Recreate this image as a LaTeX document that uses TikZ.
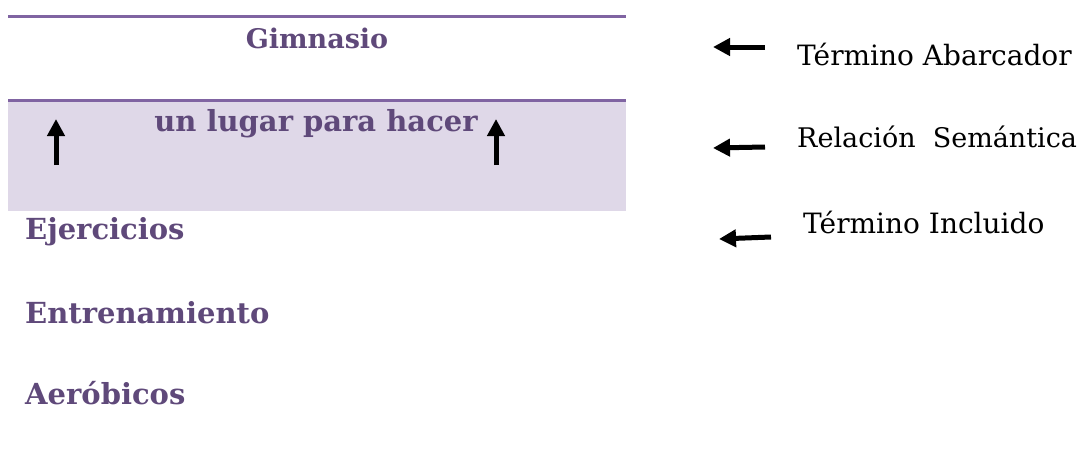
\documentclass[tikz,border=0pt]{standalone}
\usepackage{fontspec}
\setmainfont{DejaVu Serif}
\usetikzlibrary{arrows.meta}
\definecolor{lineP}{HTML}{8064A2}
\definecolor{textP}{HTML}{5F497A}
\definecolor{fillP}{HTML}{DFD8E8}
\tikzset{
  x=1pt, y=-1pt,
  term/.style={text=textP, font=\fontsize{29}{33}\selectfont\bfseries, inner sep=0pt},
  legend/.style={text=black, font=\fontsize{28}{32}\selectfont, inner sep=0pt, anchor=west},
  bigarrow/.style={line width=5pt, -{Triangle[length=17pt,width=17pt]}},
  rule/.style={lineP, line width=3pt}
}
\begin{document}
\begin{tikzpicture}
\useasboundingbox (0,0) rectangle (1085,453);
\fill[fillP] (8,100) rectangle (626,211);
\draw[rule] (8,16) -- (626,16);
\draw[rule] (8,100) -- (626,100);
\node[term, font=\fontsize{27}{31}\selectfont\bfseries] (gim) at (317,38) {Gimnasio};
\node[term] (lugar) at (316,124) {un lugar para hacer};
\node[term, anchor=west] (ej) at (25,232) {Ejercicios};
\node[term, anchor=west] (en) at (25,313) {Entrenamiento};
\node[term, anchor=west] (ae) at (25,393) {Aeróbicos};
\coordinate (u1s) at (56,165); \coordinate (u1e) at (56,119);
\coordinate (u2s) at (496,165); \coordinate (u2e) at (496,119);
\draw[bigarrow] (u1s) -- (u1e);
\draw[bigarrow] (u2s) -- (u2e);
\node[legend] (ta) at (797,54) {Término Abarcador};
\node[legend, font=\fontsize{27}{31}\selectfont] (rs) at (797,137) {Relación\ \ Semántica};
\node[legend] (ti) at (803,222) {Término Incluido};
\coordinate (a1s) at (765,47); \coordinate (a1e) at (713,47);
\coordinate (a2s) at (765,147); \coordinate (a2e) at (713,148);
\coordinate (a3s) at (771,237); \coordinate (a3e) at (719,239);
\draw[bigarrow] (a1s) -- (a1e);
\draw[bigarrow] (a2s) -- (a2e);
\draw[bigarrow] (a3s) -- (a3e);
\end{tikzpicture}
\end{document}
